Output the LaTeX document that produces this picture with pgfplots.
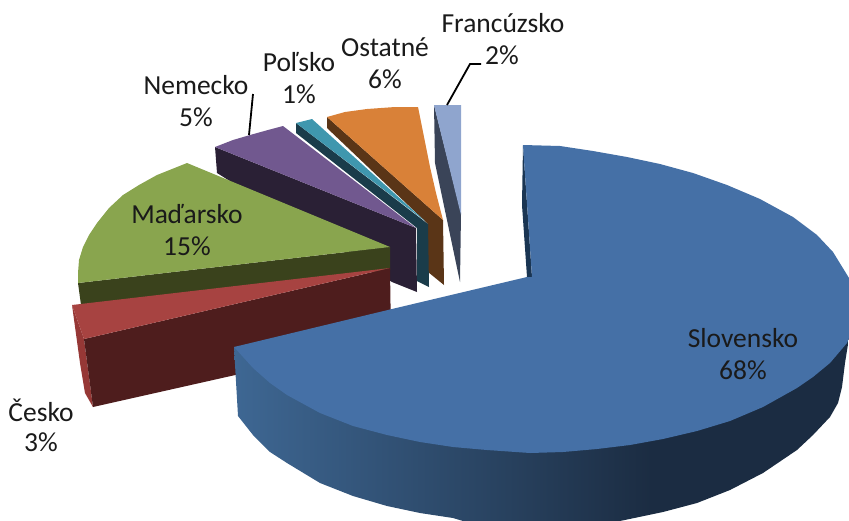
\documentclass[border=0pt]{standalone}
\usepackage{pgfplots}
\pgfplotsset{compat=1.18}
\usepackage{fontspec}
\setmainfont{Carlito}
\definecolor{blueTop}{RGB}{69,112,166}
\definecolor{blueA}{RGB}{62,103,147}
\definecolor{blueB}{RGB}{38,62,90}
\definecolor{blueC}{RGB}{27,44,66}
\definecolor{blueIn}{RGB}{26,53,82}
\definecolor{redTop}{RGB}{167,67,65}
\definecolor{redSide}{RGB}{78,29,29}
\definecolor{redRim}{RGB}{150,56,54}
\definecolor{greenTop}{RGB}{137,165,78}
\definecolor{greenSide}{RGB}{58,66,28}
\definecolor{purpleTop}{RGB}{113,88,143}
\definecolor{purpleSide}{RGB}{42,32,53}
\definecolor{tealTop}{RGB}{63,151,174}
\definecolor{tealSide}{RGB}{26,60,74}
\definecolor{orangeTop}{RGB}{217,129,56}
\definecolor{orangeSide}{RGB}{90,53,23}
\definecolor{lightTop}{RGB}{143,165,206}
\definecolor{lightSide}{RGB}{58,68,88}
\definecolor{labelText}{RGB}{26,26,26}
\pgfdeclarehorizontalshading{bluerim}{100bp}{color(0bp)=(blueA); color(25bp)=(blueA); color(49bp)=(blueB); color(59bp)=(blueC); color(100bp)=(blueC)}
\tikzset{lab/.style={font=\fontsize{27.5}{33}\selectfont, text=labelText, inner sep=0pt}}
\begin{document}
\begin{tikzpicture}
\begin{axis}[
    width=849pt, height=520pt,
    scale only axis,
    hide axis,
    xmin=0, xmax=849,
    ymin=0, ymax=520,
    y dir=reverse,
    no markers,
]
% keep the whole frame in the page
\path (axis cs:0,0) -- (axis cs:849,520);
% Francuzsko
\addplot[fill=lightSide, draw=none] coordinates {(434,105) (435,163) (460,282) (461,213)} --cycle;
\addplot[fill=lightTop, draw=none] coordinates {(434,105) (461,105) (461,215)} --cycle;
% Ostatne
\addplot[fill=orangeSide, draw=none] coordinates {(327,117) (443,220) (444,285) (428,272) (428,224) (327,128)} --cycle;
\addplot[fill=orangeTop, draw=none] coordinates {(327,117) (345,112) (367,109) (395,107) (418,107) (424,137) (430,167) (436,193) (443,220)} --cycle;
% Polsko
\addplot[fill=tealSide, draw=none] coordinates {(296,123) (428,224) (429,287) (417,281) (417,228) (296,133)} --cycle;
\addplot[fill=tealTop, draw=none] coordinates {(296,123) (312,119) (425,221)} --cycle;
% Nemecko
\addplot[fill=purpleSide, draw=none] coordinates {(215,147) (416,228) (417,292) (392,282) (217,173)} --cycle;
\addplot[fill=purpleTop, draw=none] coordinates {(215,147) (233,140) (250,135) (268,130) (283,126) (416,228)} --cycle;
% Madarsko
\addplot[fill=greenSide, draw=none] coordinates {(78,283) (390,247) (390,270) (81,305)} --cycle;
\addplot[fill=greenTop, draw=none] coordinates {(187,163) (157,175) (139,185) (123,195) (109,208) (97,223) (89,235) (83,247) (79,260) (78,273) (78,283) (390,247)} --cycle;
% Cesko
\addplot[fill=redRim, draw=none] coordinates {(72,305) (84,339) (93,407) (85,393) (80,363)} --cycle;
\addplot[fill=redSide, draw=none] coordinates {(84,339) (390,268) (391,340) (93,407)} --cycle;
\addplot[fill=redTop, draw=none] coordinates {(72,305) (390,268) (84,339)} --cycle;
% Slovensko
\addplot[fill=blueIn, draw=none] coordinates {(523,145) (522,205) (527,277) (532,277)} --cycle;
\addplot[shading=bluerim, draw=none] coordinates {
    (234,347) (238,416) (253,435) (270,452) (287,463) (320,483) (353,496) (387,506)
    (420,513) (453,518) (463,521) (620,521) (663,512) (697,503) (730,490) (763,473)
    (797,450) (813,435) (830,417) (838,403) (842,387) (845,363) (849,338)} --cycle;
\addplot[fill=blueTop, draw=none] coordinates {
    (523,145) (560,146) (593,151) (627,157) (660,164) (693,173) (727,185) (760,199)
    (793,217) (817,235) (833,252) (849,278) (849,338) (847,343) (830,363) (813,377)
    (797,388) (763,407) (730,421) (697,431) (663,439) (630,445) (597,449) (563,452)
    (530,453) (487,450) (453,447) (420,442) (387,435) (353,426) (320,413) (287,395)
    (270,383) (253,368) (234,347) (392,309) (527,277) (532,277)} --cycle;
% leader lines
\addplot[black, line width=1.8pt] coordinates {(253,94) (249,135)};
\addplot[black, line width=1.8pt] coordinates {(447,105) (470,64) (481,64)};
% labels
\node[lab] at (axis cs:743,338) {Slovensko};
\node[lab] at (axis cs:743,370) {68\%};
\node[lab] at (axis cs:187,214) {Maďarsko};
\node[lab] at (axis cs:187,246) {15\%};
\node[lab] at (axis cs:196,85) {Nemecko};
\node[lab] at (axis cs:196,117) {5\%};
\node[lab] at (axis cs:299,62) {Poľsko};
\node[lab] at (axis cs:299,94) {1\%};
\node[lab] at (axis cs:385,47) {Ostatné};
\node[lab] at (axis cs:385,79) {6\%};
\node[lab] at (axis cs:503,23) {Francúzsko};
\node[lab] at (axis cs:502,55) {2\%};
\node[lab] at (axis cs:41,410) {Česko};
\node[lab] at (axis cs:41,442) {3\%};
\end{axis}
\end{tikzpicture}
\end{document}
